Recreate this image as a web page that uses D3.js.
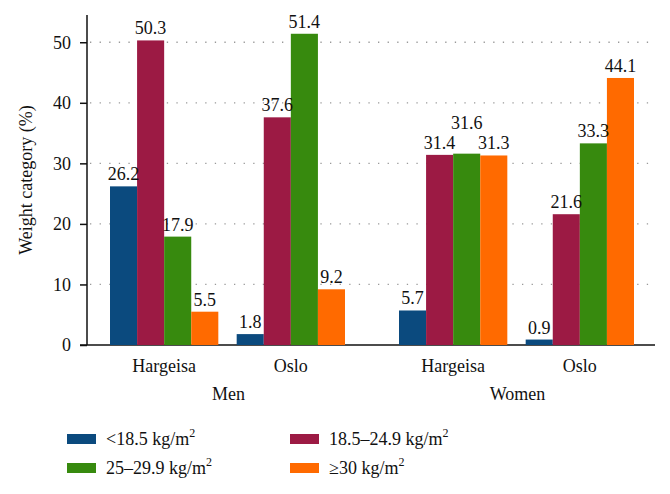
<!DOCTYPE html>
<html><head><meta charset="utf-8">
<script src="https://cdn.jsdelivr.net/npm/d3@7"></script>
<style>body{margin:0;background:#fff}svg{display:block}text{font-family:"Liberation Serif","DejaVu Serif",serif;fill:#111}</style>
</head><body><svg id="c" width="670" height="494"></svg>
<script>
const sexes = ["Men", "Women"];
const cities = ["Hargeisa", "Oslo"];
const categories = ["<18.5", "18.5–24.9", "25–29.9", "≥30"];
const legendLabels = ["<18.5 kg/m", "18.5–24.9 kg/m", "25–29.9 kg/m", "≥30 kg/m"];
const colors = ["#0b4a7e", "#9c1a44", "#378a0e", "#ff6a00"];
const menHargeisa = [26.2, 50.3, 17.9, 5.5];
const menOslo = [1.8, 37.6, 51.4, 9.2];
const womenHargeisa = [5.7, 31.4, 31.6, 31.3];
const womenOslo = [0.9, 21.6, 33.3, 44.1];
const yTicks = [0, 10, 20, 30, 40, 50];

const groups = [
  {sex: "Men", city: "Hargeisa", values: menHargeisa},
  {sex: "Men", city: "Oslo", values: menOslo},
  {sex: "Women", city: "Hargeisa", values: womenHargeisa},
  {sex: "Women", city: "Oslo", values: womenOslo}
];

const svg = d3.select("#c");
const pL = 87, pR = 655, pT = 15, pB = 345;
const y = d3.scaleLinear().domain([0, 54.5]).range([pB, pT]);
const xSex = d3.scaleBand().domain(sexes).range([110, 634]).paddingInner(54 / 289);
const xCity = d3.scaleBand().domain(cities).range([0, xSex.bandwidth()]).paddingInner(0.145);
const xCat = d3.scaleBand().domain(categories).range([0, xCity.bandwidth()]);

// grid
svg.append("g").selectAll("line").data(yTicks.filter(d => d > 0)).join("line")
  .attr("x1", pL + 3).attr("x2", pR).attr("y1", d => y(d)).attr("y2", d => y(d))
  .attr("stroke", "#999").attr("stroke-width", 1.3).attr("stroke-dasharray", "1.3,8.3");

// y axis
const yAxis = d3.axisLeft(y).tickValues(yTicks).tickSize(7).tickPadding(9);
const ga = svg.append("g").attr("transform", `translate(${pL},0)`).call(yAxis);
ga.attr("font-family", null).attr("font-size", null);
ga.select(".domain").remove();
ga.selectAll(".tick line").attr("stroke", "#111").attr("stroke-width", 1.5);
ga.selectAll(".tick text").style("font-size", "18px").attr("fill", "#111");
svg.append("line").attr("x1", pL).attr("x2", pL).attr("y1", pT).attr("y2", pB)
  .attr("stroke", "#111").attr("stroke-width", 1.5);
svg.append("line").attr("x1", pL - 7).attr("x2", pR).attr("y1", pB).attr("y2", pB)
  .attr("stroke", "#111").attr("stroke-width", 1.5);

// raise a label whose both neighbours have almost the same height, so labels don't collide
function lift(vals, i) {
  if (i === 0 || i === vals.length - 1) return 0;
  return (Math.abs(vals[i] - vals[i - 1]) < 2 && Math.abs(vals[i] - vals[i + 1]) < 2) ? 19 : 0;
}

// bars
groups.forEach(g => {
  const gx = xSex(g.sex) + xCity(g.city);
  const gg = svg.append("g").attr("transform", `translate(${gx},0)`);
  gg.selectAll("rect").data(g.values).join("rect")
    .attr("x", (d, i) => xCat(categories[i]))
    .attr("width", xCat.bandwidth())
    .attr("y", d => y(d)).attr("height", d => y(0) - y(d))
    .attr("fill", (d, i) => colors[i]);
  gg.selectAll("text").data(g.values).join("text")
    .attr("x", (d, i) => xCat(categories[i]) + xCat.bandwidth() / 2)
    .attr("y", (d, i) => y(d) - 6 - lift(g.values, i))
    .attr("text-anchor", "middle").style("font-size", "18px")
    .text(d => d.toFixed(1));
  svg.append("text").attr("x", gx + xCity.bandwidth() / 2).attr("y", 372)
    .attr("text-anchor", "middle").style("font-size", "18px").text(g.city);
});
sexes.forEach(s => {
  svg.append("text").attr("x", xSex(s) + xSex.bandwidth() / 2 + 1).attr("y", 400)
    .attr("text-anchor", "middle").style("font-size", "18px").text(s);
});

// y label
svg.append("text").attr("transform", "translate(32,180) rotate(-90)")
  .attr("text-anchor", "middle").style("font-size", "18px").text("Weight category (%)");

// legend
const legPos = [[67, 439], [290, 439], [67, 468], [290, 468]];
categories.forEach((c, i) => {
  const [lx, ly] = legPos[i];
  svg.append("rect").attr("x", lx).attr("y", ly - 5).attr("width", 29).attr("height", 10).attr("fill", colors[i]);
  const t = svg.append("text").attr("x", lx + 39).attr("y", ly + 6).style("font-size", "18px");
  t.append("tspan").text(legendLabels[i]);
  t.append("tspan").attr("dy", -8).style("font-size", "12px").text("2");
});
</script></body></html>
